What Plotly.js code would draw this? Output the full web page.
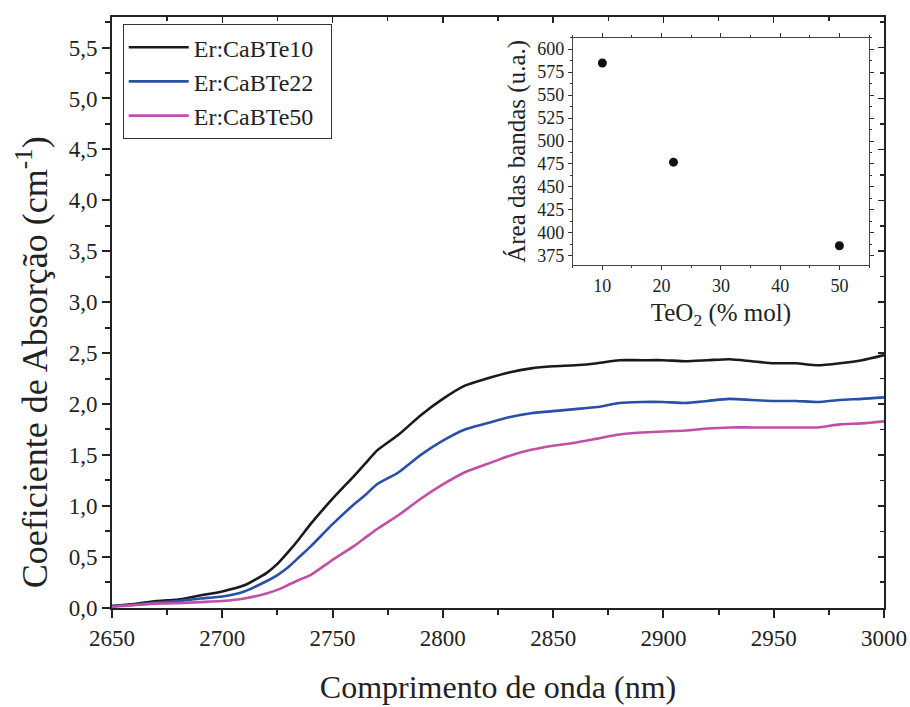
<!DOCTYPE html>
<html><head><meta charset="utf-8">
<script src="https://cdn.plot.ly/plotly-3.0.1.min.js"></script>
<style>body{margin:0;background:#fff}#c{width:910px;height:707px}</style>
</head><body><div id="c"></div>
<script>
const wavelength = [2650,2660,2670,2675,2680,2690,2700,2710,2720,2725,2730,2735,2740,2750,2760,2765,2770,2780,2790,2800,2810,2820,2830,2840,2850,2860,2870,2880,2890,2900,2910,2920,2930,2940,2950,2960,2970,2980,2990,3000];
const te10 = [0.015,0.035,0.065,0.072,0.08,0.12,0.16,0.22,0.34,0.43,0.55,0.68,0.82,1.07,1.30,1.42,1.54,1.70,1.89,2.05,2.18,2.25,2.31,2.35,2.37,2.38,2.40,2.43,2.43,2.43,2.42,2.43,2.44,2.42,2.40,2.40,2.38,2.40,2.43,2.48];
const te22 = [0.015,0.03,0.05,0.058,0.065,0.09,0.11,0.16,0.26,0.32,0.40,0.50,0.60,0.82,1.02,1.11,1.21,1.33,1.50,1.64,1.75,1.81,1.87,1.91,1.93,1.95,1.97,2.01,2.02,2.02,2.01,2.03,2.05,2.04,2.03,2.03,2.02,2.04,2.05,2.065];
const te50 = [0.01,0.025,0.04,0.042,0.045,0.055,0.065,0.09,0.14,0.175,0.225,0.275,0.32,0.47,0.61,0.69,0.77,0.91,1.07,1.21,1.33,1.41,1.49,1.55,1.59,1.62,1.66,1.70,1.72,1.73,1.74,1.76,1.77,1.77,1.77,1.77,1.77,1.80,1.81,1.83];
const seriesNames = ["Er:CaBTe10","Er:CaBTe22","Er:CaBTe50"];
const teo2 = [10,22,50];
const bandArea = [585,477,386];

const F = "Liberation Serif, Times New Roman, serif";
const colors = ["#1a1a1a","#2a50a6","#c04fa6"];
const ys = [te10,te22,te50];
const traces = ys.map((y,i)=>({x:wavelength,y:y,type:'scatter',mode:'lines',name:seriesNames[i]+'\u00a0\u00a0',
  line:{color:colors[i],width:2.6,shape:'spline',smoothing:0.6},xaxis:'x',yaxis:'y'}));
traces.push({x:teo2,y:bandArea,type:'scatter',mode:'markers',showlegend:false,
  marker:{color:'#111',size:9},xaxis:'x2',yaxis:'y2'});
traces.push({x:[2650],y:[0],type:'scatter',mode:'markers',marker:{opacity:0},showlegend:false,hoverinfo:'skip',xaxis:'x3',yaxis:'y3'});

const layout = {
  width:910,height:707,
  margin:{l:112,r:26,t:17,b:99},
  paper_bgcolor:'#fff',plot_bgcolor:'rgba(0,0,0,0)',
  separators:',.',
  font:{family:F,color:'#222',size:23},
  showlegend:true,
  legend:{x:0.0139,y:0.988,xanchor:'left',yanchor:'top',bgcolor:'#fff',bordercolor:'#333',borderwidth:1,
    font:{family:F,size:24,color:'#222'},itemwidth:60,tracegroupgap:0},
  annotations:[{text:'Coeficiente de Absorção (cm<sup>-1</sup>)',xref:'paper',yref:'paper',x:-0.1036,y:0.416,
    xanchor:'center',yanchor:'middle',textangle:-90,showarrow:false,font:{family:F,size:36,color:'#222'}}],
  xaxis:{domain:[0,1],range:[2650,3000],dtick:50,tick0:2650,tickformat:'d',ticks:'outside',ticklen:8,tickwidth:2,tickcolor:'#222',
    showline:true,linecolor:'#222',linewidth:2,mirror:true,showgrid:false,zeroline:false,
    tickfont:{family:F,size:23,color:'#222'},
    minor:{dtick:25,ticks:'outside',ticklen:5,tickwidth:2,tickcolor:'#222'},
    title:{text:'Comprimento de onda (nm)',font:{family:F,size:32,color:'#222'},standoff:26}},
  yaxis:{domain:[0,1],range:[-0.003,5.8],dtick:0.5,tick0:0,tickformat:'.1f',ticks:'outside',ticklen:8,tickwidth:2,tickcolor:'#222',
    showline:true,linecolor:'#222',linewidth:2,mirror:true,showgrid:false,zeroline:false,
    tickfont:{family:F,size:23,color:'#222'},
    minor:{dtick:0.25,ticks:'outside',ticklen:5,tickwidth:2,tickcolor:'#222'}},
  xaxis3:{overlaying:'x',side:'top',range:[2650,3000],dtick:50,tick0:2650,ticks:'inside',ticklen:6,tickwidth:1.5,tickcolor:'#222',
    showticklabels:false,showgrid:false,zeroline:false,showline:false,
    minor:{dtick:25,ticks:'inside',ticklen:4,tickwidth:1.5,tickcolor:'#222'}},
  yaxis3:{overlaying:'y',side:'right',range:[-0.003,5.8],dtick:0.5,tick0:0,ticks:'inside',ticklen:6,tickwidth:1.5,tickcolor:'#222',
    showticklabels:false,showgrid:false,zeroline:false,showline:false,
    minor:{dtick:0.25,ticks:'inside',ticklen:4,tickwidth:1.5,tickcolor:'#222'}},
  xaxis2:{domain:[0.5968,0.9806],anchor:'y2',range:[5,55],dtick:10,tick0:10,ticks:'outside',ticklen:4,tickwidth:1,tickcolor:'#333',
    showline:true,linecolor:'#444',linewidth:1,mirror:'allticks',showgrid:false,zeroline:false,
    tickfont:{family:F,size:18,color:'#222'},
    minor:{dtick:5,ticks:'outside',ticklen:2,tickwidth:1,tickcolor:'#333'},
    title:{text:'TeO<sub>2</sub> (% mol)',font:{family:F,size:25,color:'#222'},standoff:8}},
  yaxis2:{domain:[0.5804,0.965],anchor:'x2',range:[365,612.5],dtick:25,tick0:375,ticks:'outside',ticklen:4,tickwidth:1,tickcolor:'#333',
    showline:true,linecolor:'#444',linewidth:1,mirror:'allticks',showgrid:false,zeroline:false,
    tickfont:{family:F,size:18,color:'#222'},
    minor:{dtick:12.5,ticks:'outside',ticklen:2,tickwidth:1,tickcolor:'#333'},
    title:{text:'Área das bandas (u.a.)',font:{family:F,size:25,color:'#222'},standoff:4}}
};
Plotly.newPlot('c',traces,layout,{displayModeBar:false,staticPlot:true});
</script></body></html>
